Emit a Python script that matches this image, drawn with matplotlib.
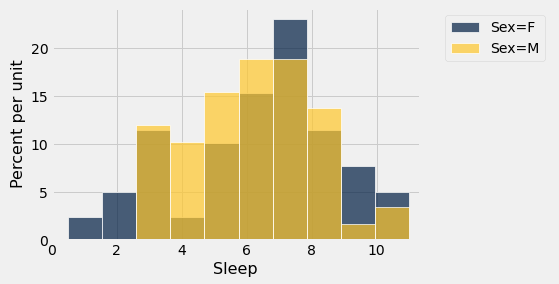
import matplotlib
matplotlib.use("Agg")
import matplotlib.pyplot as plt
import numpy as np

plt.style.use("fivethirtyeight")

bins = np.linspace(0.5, 11.0, 11)
female = [2.47, 5.07, 11.53, 2.47, 10.17, 15.38, 23.09, 11.53, 7.71, 5.07]
male = [0.0, 0.0, 12.01, 10.24, 15.49, 18.92, 18.92, 13.82, 1.67, 3.44]

dark_blue = (0.0, 30 / 256, 66 / 256)
gold = (1.0, 200 / 256, 44 / 256)

fig = plt.figure(figsize=(559 / 72, 284 / 72), dpi=72)
fig.patch.set_facecolor("#f0f0f0")
ax = fig.add_axes([0.0925, 0.154, 0.6585, 0.818])

centers = (bins[:-1] + bins[1:]) / 2
ax.hist(centers, bins=bins, weights=female, color=dark_blue, alpha=0.7,
        edgecolor="white", linewidth=1, label="Sex=F")
ax.hist(centers, bins=bins, weights=male, color=gold, alpha=0.7,
        edgecolor="white", linewidth=1, label="Sex=M")

ax.set_xlim(0, 11.33)
ax.set_ylim(0, 24.2)
ax.set_xticks([0, 2, 4, 6, 8, 10])
ax.set_yticks([0, 5, 10, 15, 20])
ax.tick_params(labelsize=14)
ax.set_xlabel("Sleep", fontsize=16)
ax.set_ylabel("Percent per unit", fontsize=16)
ax.legend(loc="upper left", bbox_to_anchor=(1.05, 1), fontsize=14)

fig.savefig("out.png", dpi=72, facecolor=fig.get_facecolor())
